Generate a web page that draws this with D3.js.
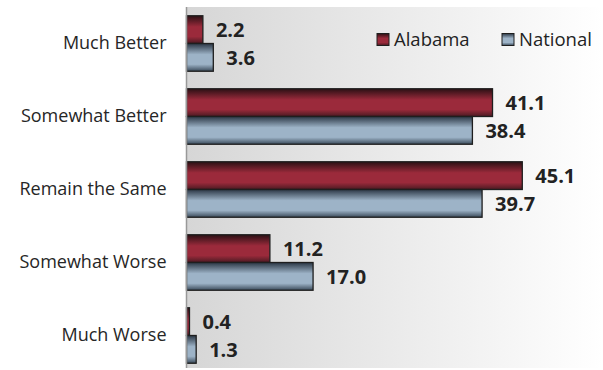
<!DOCTYPE html>
<html><head><meta charset="utf-8">
<script src="https://cdn.jsdelivr.net/npm/d3@7/dist/d3.min.js"></script>
<style>body{margin:0;background:#fff}svg{display:block}</style>
</head><body><svg id="c" width="603" height="370"></svg>
<script>
const categories = ["Much Better","Somewhat Better","Remain the Same","Somewhat Worse","Much Worse"];
const seriesNames = ["Alabama","National"];
const alabama = [2.2, 41.1, 45.1, 11.2, 0.4];
const national = [3.6, 38.4, 39.7, 17.0, 1.3];

const svg = d3.select("#c");
const W = 603, H = 370;
const x = d3.scaleLinear().domain([0, 55]).range([186.5, 596]);
const y0 = d3.scaleBand().domain(categories).range([7, 372]).paddingInner(0.24).paddingOuter(0.12);
const y1 = d3.scaleBand().domain(seriesNames).range([0, y0.bandwidth()]);

const defs = svg.append("defs");
const bg = defs.append("linearGradient").attr("id","bg").attr("x1","0").attr("x2","1").attr("y1","0").attr("y2","0");
bg.append("stop").attr("offset","0").attr("stop-color","#d6d6d6");
bg.append("stop").attr("offset","1").attr("stop-color","#ffffff");
function grad(id, edge, mid, edge2){
  const g = defs.append("linearGradient").attr("id",id).attr("x1","0").attr("x2","0").attr("y1","0").attr("y2","1");
  g.append("stop").attr("offset","0").attr("stop-color",edge);
  g.append("stop").attr("offset","0.4").attr("stop-color",mid);
  g.append("stop").attr("offset","0.75").attr("stop-color",mid);
  g.append("stop").attr("offset","1").attr("stop-color",edge2);
}
grad("gA","#2a1014","#9b2a3b","#4a1a22");
grad("gN","#2a3644","#9db3c7","#3a4a5a");

svg.append("rect").attr("x",x(0)).attr("y",7).attr("width",W-x(0)).attr("height",361).attr("fill","url(#bg)");

const data = categories.map((c,i)=>({c, vals:[{s:"Alabama",v:alabama[i]},{s:"National",v:national[i]}]}));
const g = svg.append("g").selectAll("g").data(data).join("g").attr("transform",d=>`translate(0,${y0(d.c)})`);
g.selectAll("rect").data(d=>d.vals).join("rect")
  .attr("x",x(0)).attr("y",d=>y1(d.s)).attr("width",d=>x(d.v)-x(0)).attr("height",y1.bandwidth())
  .attr("fill",d=>d.s==="Alabama"?"url(#gA)":"url(#gN)").attr("stroke","#1e1e1e").attr("stroke-width",1.3);
g.selectAll("text").data(d=>d.vals).join("text")
  .attr("x",d=>x(d.v)+13).attr("y",d=>y1(d.s)+y1.bandwidth()/2).attr("dy","0.36em")
  .attr("font-family","'Open Sans', sans-serif").attr("font-weight","bold").attr("font-size",20).attr("fill","#222")
  .text(d=>d3.format(".1f")(d.v));

// axis
svg.append("line").attr("x1",x(0)).attr("x2",x(0)).attr("y1",7).attr("y2",368).attr("stroke","#999").attr("stroke-width",1.5);
const yAxis = d3.axisLeft(y0).tickSize(0).tickPadding(20);
const ag = svg.append("g").attr("transform",`translate(${x(0)},0)`).call(yAxis);
ag.select(".domain").remove();
ag.selectAll("text").attr("font-family","'Open Sans', sans-serif").attr("font-size",18).attr("fill","#262626");

// legend
const leg = svg.append("g");
const lx = [377, 502];
seriesNames.forEach((s,i)=>{
  leg.append("rect").attr("x",lx[i]).attr("y",33.5).attr("width",12).attr("height",12)
    .attr("fill",i===0?"url(#gA)":"url(#gN)").attr("stroke","#1e1e1e").attr("stroke-width",1);
  leg.append("text").attr("x",lx[i]+17).attr("y",39.5).attr("dy","0.36em")
    .attr("font-family","'Open Sans', sans-serif").attr("font-size",18.5).attr("fill","#222").text(s);
});
</script></body></html>
